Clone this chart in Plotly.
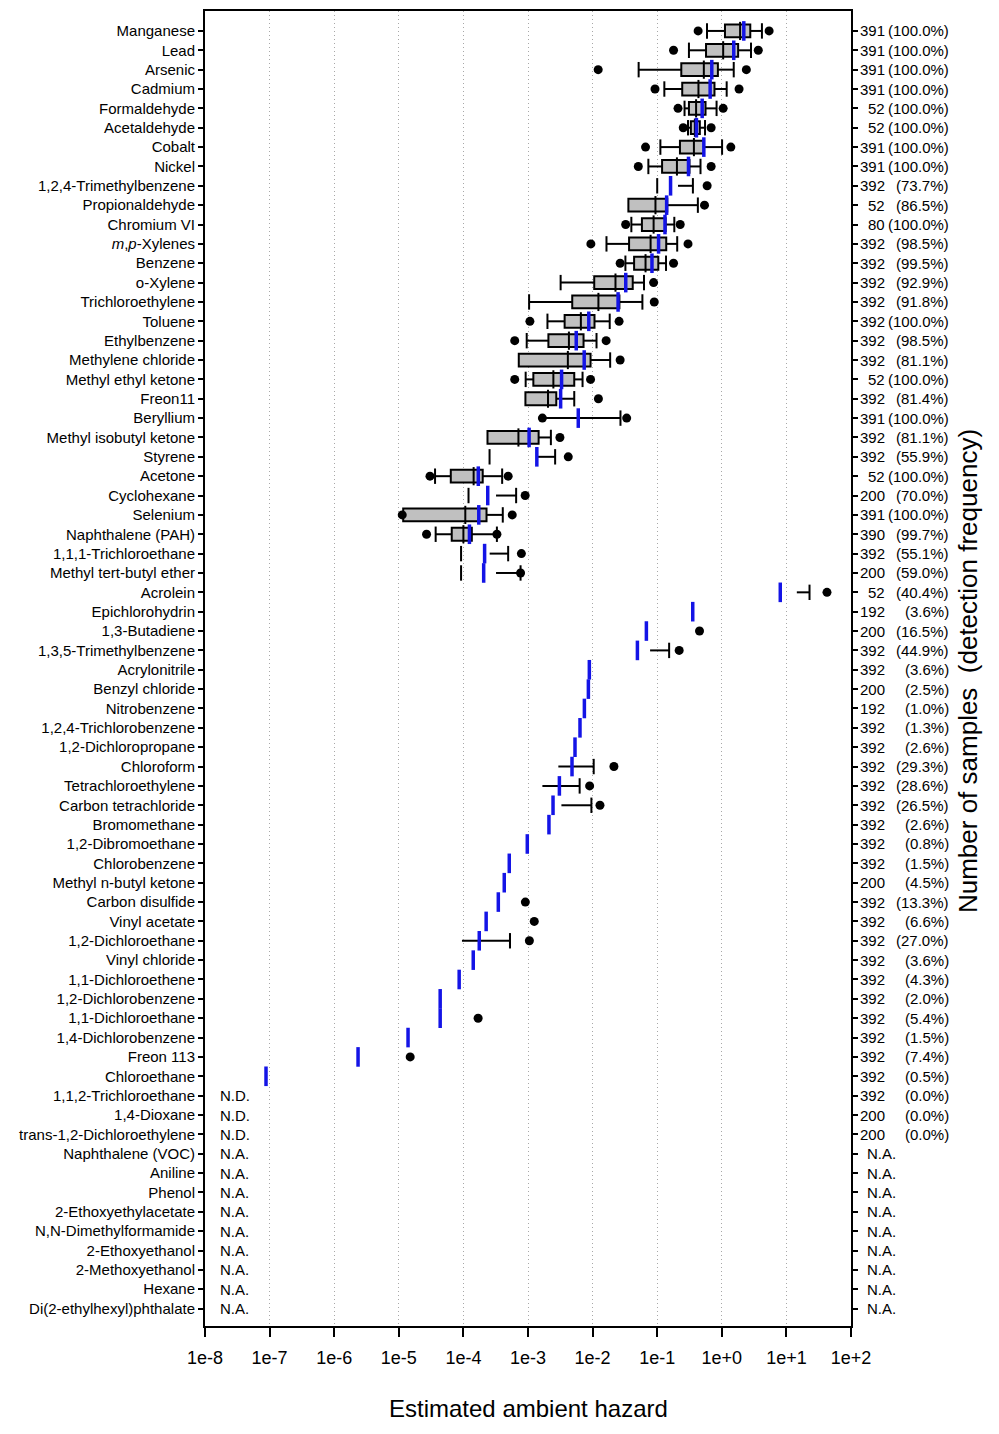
import plotly.graph_objects as go

N = None
names = ["Manganese", "Lead", "Arsenic", "Cadmium", "Formaldehyde", "Acetaldehyde", "Cobalt", "Nickel",
         "1,2,4-Trimethylbenzene", "Propionaldehyde", "Chromium VI", "<i>m</i>,<i>p</i>-Xylenes", "Benzene",
         "o-Xylene", "Trichloroethylene", "Toluene", "Ethylbenzene", "Methylene chloride",
         "Methyl ethyl ketone", "Freon11", "Beryllium", "Methyl isobutyl ketone", "Styrene", "Acetone",
         "Cyclohexane", "Selenium", "Naphthalene (PAH)", "1,1,1-Trichloroethane", "Methyl tert-butyl ether",
         "Acrolein", "Epichlorohydrin", "1,3-Butadiene", "1,3,5-Trimethylbenzene", "Acrylonitrile",
         "Benzyl chloride", "Nitrobenzene", "1,2,4-Trichlorobenzene", "1,2-Dichloropropane", "Chloroform",
         "Tetrachloroethylene", "Carbon tetrachloride", "Bromomethane", "1,2-Dibromoethane",
         "Chlorobenzene", "Methyl n-butyl ketone", "Carbon disulfide", "Vinyl acetate",
         "1,2-Dichloroethane", "Vinyl chloride", "1,1-Dichloroethene", "1,2-Dichlorobenzene",
         "1,1-Dichloroethane", "1,4-Dichlorobenzene", "Freon 113", "Chloroethane",
         "1,1,2-Trichloroethane", "1,4-Dioxane", "trans-1,2-Dichloroethylene", "Naphthalene (VOC)",
         "Aniline", "Phenol", "2-Ethoxyethylacetate", "N,N-Dimethylformamide", "2-Ethoxyethanol",
         "2-Methoxyethanol", "Hexane", "Di(2-ethylhexyl)phthalate"]

# 5th percentile (dot), 10th (lower cap), Q1, median, Q3 / whisker start, 90th (upper cap), 95th (dot), mean
p5 = [0.43, 0.179, 0.0122, 0.0925, 0.21, 0.253, 0.066, 0.051, N, N, 0.0325, 0.0094, 0.0267, N, N,
      0.00107, 0.000623, N, 0.000623, N, 0.00167, N, N, 3.04e-5, N, 1.13e-5, 2.69e-5, N, N, N] + [N] * 37
p10 = [0.59, 0.31, 0.0516, 0.129, 0.265, 0.30, 0.112, 0.073, 0.1, N, 0.0398, 0.0164, 0.0322, 0.0032,
       0.00104, 0.0020, 0.000955, N, 0.00092, N, N, N, 0.000254, 3.64e-5, 1.2e-4, N, 3.72e-5, 9.2e-5,
       9.2e-5, N] + [N] * 37
q1 = [1.12, 0.57, 0.236, 0.244, 0.31, 0.332, 0.225, 0.119, N, 0.0358, 0.058, 0.0367, 0.0439, 0.0106,
      0.00484, 0.00369, 0.00207, 0.00072, 0.00121, 0.000912, N, 0.000236, N, 6.38e-5, N, 1.17e-5,
      6.6e-5, N, N, N] + [N] * 37
median = [1.92, 1.05, 0.527, 0.435, 0.40, 0.383, 0.37, 0.202, N, 0.094, 0.088, 0.079, 0.066, 0.0226,
          0.0123, 0.00658, 0.0043, 0.00414, 0.00247, 0.00204, N, 0.000711, N, 1.44e-4, N, 1.07e-4,
          1.0e-4, N, N, N] + [N] * 37
q3 = [2.76, 1.79, 0.87, 0.77, 0.56, 0.457, 0.53, 0.316, 0.21, 0.143, 0.135, 0.138, 0.104, 0.0418,
      0.026, 0.0107, 0.00724, 0.0093, 0.0052, 0.00274, 0.00167, 0.00146, 0.00137, 1.99e-4, 3.2e-4,
      2.28e-4, 1.35e-4, 2.55e-4, 3.2e-4, 14.5, N, N, 0.0776, N, N, N, N, N, 0.00295, 0.00167, 0.00329,
      N, N, N, N, N, N, 9.5e-5] + [N] * 19
p90 = [4.18, 2.83, 1.53, 1.19, 0.83, 0.55, 1.01, 0.468, 0.357, 0.426, 0.184, 0.204, 0.137, 0.0625,
       0.059, 0.0184, 0.0115, 0.0187, 0.00699, 0.0052, 0.027, 0.00226, 0.00263, 3.98e-4, 6.55e-4,
       4.07e-4, 3.3e-4, 4.93e-4, 7.67e-4, 22.8, N, N, 0.153, N, N, N, N, N, 0.0104, 0.0063, 0.00958,
       N, N, N, N, N, N, 5.26e-4] + [N] * 19
p95 = [5.4, 3.67, 2.4, 1.85, 1.05, 0.684, 1.38, 0.684, 0.593, 0.54, 0.227, 0.30, 0.179, 0.088, 0.090,
       0.0257, 0.0162, 0.0267, 0.0093, 0.0123, 0.0337, 0.00312, 0.0042, 4.93e-4, 9.04e-4, 5.7e-4,
       3.3e-4, 7.9e-4, 7.67e-4, 42.5, N, 0.452, 0.219, N, N, N, N, N, 0.0214, 0.009, 0.013, N, N, N,
       N, 9.1e-4, 1.25e-3, 1.05e-3, N, N, N, 1.69e-4, N, 1.5e-5] + [N] * 13
mean = [2.19, 1.53, 0.70, 0.66, 0.497, 0.405, 0.527, 0.305, 0.161, 0.14, 0.132, 0.105, 0.083, 0.0326,
        0.0248, 0.00873, 0.00558, 0.00741, 0.00331, 0.0032, 0.006, 0.00104, 0.00137, 1.70e-4, 2.38e-4,
        1.73e-4, 1.24e-4, 2.13e-4, 2.06e-4, 8.04, 0.355, 0.068, 0.0494, 0.0089, 0.0086, 0.00746,
        0.00638, 0.00534, 0.0048, 0.00306, 0.00244, 0.00211, 9.75e-4, 5.13e-4, 4.29e-4, 3.47e-4,
        2.25e-4, 1.76e-4, 1.42e-4, 8.6e-5, 4.37e-5, 4.37e-5, 1.39e-5, 2.34e-6, 8.8e-8] + [N] * 12

n_samples = [391, 391, 391, 391, 52, 52, 391, 391, 392, 52, 80, 392, 392, 392, 392, 392, 392, 392, 52,
             392, 391, 392, 392, 52, 200, 391, 390, 392, 200, 52, 192, 200, 392, 392, 200, 192, 392, 392,
             392, 392, 392, 392, 392, 392, 200, 392, 392, 392, 392, 392, 392, 392, 392, 392, 392, 392,
             200, 200] + [N] * 9
det_freq = ["100.0", "100.0", "100.0", "100.0", "100.0", "100.0", "100.0", "100.0", "73.7", "86.5",
            "100.0", "98.5", "99.5", "92.9", "91.8", "100.0", "98.5", "81.1", "100.0", "81.4", "100.0",
            "81.1", "55.9", "100.0", "70.0", "100.0", "99.7", "55.1", "59.0", "40.4", "3.6", "16.5",
            "44.9", "3.6", "2.5", "1.0", "1.3", "2.6", "29.3", "28.6", "26.5", "2.6", "0.8", "1.5", "4.5",
            "13.3", "6.6", "27.0", "3.6", "4.3", "2.0", "5.4", "1.5", "7.4", "0.5", "0.0", "0.0",
            "0.0"] + [N] * 9
left_note = [""] * 55 + ["N.D."] * 3 + ["N.A."] * 9

x_tickvals = [1e-8, 1e-7, 1e-6, 1e-5, 1e-4, 1e-3, 1e-2, 1e-1, 1e0, 1e1, 1e2]
x_ticktext = ["1e-8", "1e-7", "1e-6", "1e-5", "1e-4", "1e-3", "1e-2", "1e-1", "1e+0", "1e+1", "1e+2"]

FONT = "Arial, Liberation Sans, sans-serif"
idx = list(range(len(names)))

fig = go.Figure()

# boxes
bx, by, bb = [], [], []
for i in idx:
    if q1[i] is not None and q3[i] is not None:
        by.append(i); bb.append(q1[i]); bx.append(q3[i] - q1[i])
fig.add_trace(go.Bar(y=by, x=bx, base=bb, orientation="h", width=0.66,
                     marker=dict(color="#c0c0c0", line=dict(color="black", width=2)),
                     hoverinfo="skip"))

# whisker lines
wx, wy = [], []
for i in idx:
    if p10[i] is not None and q1[i] is not None:
        wx += [p10[i], q1[i], None]; wy += [i, i, None]
    if q3[i] is not None and p90[i] is not None:
        wx += [q3[i], p90[i], None]; wy += [i, i, None]
fig.add_trace(go.Scatter(x=wx, y=wy, mode="lines", line=dict(color="black", width=2),
                         hoverinfo="skip"))

# caps
cx, cy = [], []
for i in idx:
    for v in (p10[i], p90[i]):
        if v is not None:
            cx.append(v); cy.append(i)
fig.add_trace(go.Scatter(x=cx, y=cy, mode="markers",
                         marker=dict(symbol="line-ns", size=11, line=dict(color="black", width=2)),
                         hoverinfo="skip"))

# medians
mx = [median[i] for i in idx if median[i] is not None]
my = [i for i in idx if median[i] is not None]
fig.add_trace(go.Scatter(x=mx, y=my, mode="markers",
                         marker=dict(symbol="line-ns", size=13, line=dict(color="black", width=2)),
                         hoverinfo="skip"))

# means
ex = [mean[i] for i in idx if mean[i] is not None]
ey = [i for i in idx if mean[i] is not None]
fig.add_trace(go.Scatter(x=ex, y=ey, mode="markers",
                         marker=dict(symbol="line-ns", size=14, line=dict(color="#1414e6", width=3.5)),
                         hoverinfo="skip"))

# dots
dx, dy = [], []
for i in idx:
    for v in (p5[i], p95[i]):
        if v is not None:
            dx.append(v); dy.append(i)
fig.add_trace(go.Scatter(x=dx, y=dy, mode="markers",
                         marker=dict(symbol="circle", size=9, color="black"), hoverinfo="skip"))

annotations = []
for i in idx:
    if left_note[i]:
        annotations.append(dict(x=0.02, xref="paper", y=i, yref="y", text=left_note[i],
                                showarrow=False, xanchor="left", yanchor="middle",
                                font=dict(size=15, family=FONT, color="black")))
    if n_samples[i] is not None:
        annotations.append(dict(x=1.056, xref="paper", y=i, yref="y", text=str(n_samples[i]),
                                showarrow=False, xanchor="right", yanchor="middle",
                                font=dict(size=15, family=FONT, color="black")))
        annotations.append(dict(x=1.1545, xref="paper", y=i, yref="y", text="(" + det_freq[i] + "%)",
                                showarrow=False, xanchor="right", yanchor="middle",
                                font=dict(size=15, family=FONT, color="black")))
    else:
        annotations.append(dict(x=1.022, xref="paper", y=i, yref="y", text="N.A.",
                                showarrow=False, xanchor="left", yanchor="middle",
                                font=dict(size=15, family=FONT, color="black")))

annotations.append(dict(x=0.5, xref="paper", y=-0.063, yref="paper", text="Estimated ambient hazard",
                        showarrow=False, xanchor="center", yanchor="middle",
                        font=dict(size=24, family=FONT, color="black")))
annotations.append(dict(x=1.181, xref="paper", y=0.498, yref="paper",
                        text="Number of samples  (detection frequency)", textangle=-90,
                        showarrow=False, xanchor="center", yanchor="middle",
                        font=dict(size=26, family=FONT, color="black")))

fig.update_layout(
    width=999, height=1434,
    margin=dict(l=197, r=156, t=3, b=116, autoexpand=False),
    plot_bgcolor="white", paper_bgcolor="white",
    showlegend=False, barmode="overlay",
    font=dict(family=FONT, color="black"),
    annotations=annotations,
)
fig.update_xaxes(type="log", range=[-8, 2], tickvals=x_tickvals, ticktext=x_ticktext,
                 tickfont=dict(size=18, family=FONT), ticks="outside", ticklen=9, tickwidth=2,
                 ticklabelstandoff=5,
                 tickcolor="black", showline=True, linecolor="black", linewidth=2, mirror=True,
                 showgrid=True, gridcolor="#a8a8a8", gridwidth=1, griddash="1px,3px", zeroline=False)
fig.update_yaxes(range=[66.9, -1.03], tickvals=idx, ticktext=names,
                 tickfont=dict(size=15, family=FONT), ticks="outside", ticklen=5, tickwidth=2,
                 tickcolor="black", showline=True, linecolor="black", linewidth=2, mirror="ticks",
                 showgrid=False, zeroline=False)

fig.write_html("out.html")
